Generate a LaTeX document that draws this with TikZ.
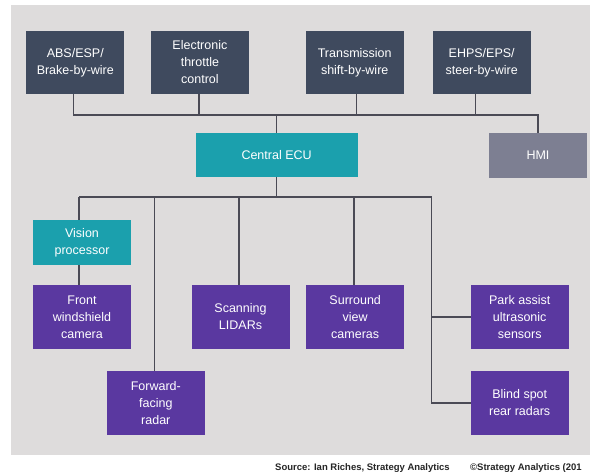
\documentclass[tikz,border=0pt]{standalone}
\usepackage{fontspec}
\setmainfont{Liberation Sans}
\definecolor{bg}{HTML}{DEDCDC}
\definecolor{slate}{HTML}{3F4A5E}
\definecolor{teal}{HTML}{1BA0AD}
\definecolor{purp}{HTML}{5A38A0}
\definecolor{hmic}{HTML}{7D7F92}
\definecolor{wire}{HTML}{4A4A55}
\begin{document}
\begin{tikzpicture}[x=1pt,y=-1pt,
  box/.style={minimum width=98pt,minimum height=63pt,inner sep=2pt,align=center,text=white,
    font=\fontsize{12.5}{17}\selectfont},
  topbox/.style={box,fill=slate},
  purpbox/.style={box,fill=purp,minimum height=64pt},
  tealbox/.style={box,fill=teal,minimum height=45pt},
  srcfont/.style={anchor=west,inner sep=0pt,text=black!85,font=\fontsize{9.5}{11}\selectfont\bfseries},
  wirel/.style={draw=wire,line width=1.4pt}]
\useasboundingbox (0,0) rectangle (590,476);
\clip (0,0) rectangle (590,476);
\fill[white] (0,0) rectangle (590,476);
\fill[bg] (11,5) rectangle (590,455);
% top row
\node[topbox] (abs) at (75.3,62.5) {ABS/ESP/\\Brake-by-wire};
\node[topbox] (etc) at (199.9,62.5) {Electronic\\throttle\\control};
\node[topbox] (trans) at (354.7,62.5) {Transmission\\shift-by-wire};
\node[topbox] (ehps) at (481.7,62.5) {EHPS/EPS/\\steer-by-wire};
\node[tealbox,minimum width=162pt,minimum height=44pt] (ecu) at (276.6,155) {Central ECU};
\node[box,fill=hmic,minimum height=45pt] (hmi) at (538,155.5) {HMI};
% lower
\node[tealbox] (vis) at (82,242.5) {Vision\\processor};
\node[purpbox] (front) at (82,317) {Front\\windshield\\camera};
\node[purpbox] (fwd) at (155.8,403) {Forward-\\facing\\radar};
\node[purpbox] (lidar) at (240.5,317) {Scanning\\LIDARs};
\node[purpbox] (surr) at (355.2,317) {Surround\\view\\cameras};
\node[purpbox] (park) at (519.7,317) {Park assist\\ultrasonic\\sensors};
\node[purpbox] (blind) at (519.7,403) {Blind spot\\rear radars};
% wires top
\coordinate (tb) at (276.6,115);
\coordinate (bl) at (79,197);
\coordinate (br) at (431.7,197);
\draw[wirel] ([xshift=-2pt]abs.south) -- ([xshift=-2pt]abs.south |- tb) -- (tb -| hmi.north) -- (hmi.north);
\draw[wirel] ([xshift=-1pt]etc.south) -- ([xshift=-1pt]etc.south |- tb);
\draw[wirel] ([xshift=2pt]trans.south) -- ([xshift=2pt]trans.south |- tb);
\draw[wirel] ([xshift=-6.5pt]ehps.south) -- ([xshift=-6.5pt]ehps.south |- tb);
\draw[wirel] (tb) -- (ecu.north);
% wires bottom
\draw[wirel] (ecu.south) -- (ecu.south |- bl);
\draw[wirel] (bl) -- (br) |- (blind.west);
\draw[wirel] (bl) -- (bl |- vis.north);
\draw[wirel] (bl |- vis.south) -- (bl |- front.north);
\draw[wirel] ([xshift=-1.5pt]fwd.north |- bl) -- ([xshift=-1.5pt]fwd.north);
\draw[wirel] ([xshift=-1.5pt]lidar.north |- bl) -- ([xshift=-1.5pt]lidar.north);
\draw[wirel] ([xshift=-1.4pt]surr.north |- bl) -- ([xshift=-1.4pt]surr.north);
\draw[wirel] (park.west -| br) -- (park.west);
% source
\node[srcfont] (src) at (275,468) {Source: Ian Riches, Strategy Analytics};
\node[srcfont] (copy) at (470,468) {©Strategy Analytics (201};
\end{tikzpicture}
\end{document}
